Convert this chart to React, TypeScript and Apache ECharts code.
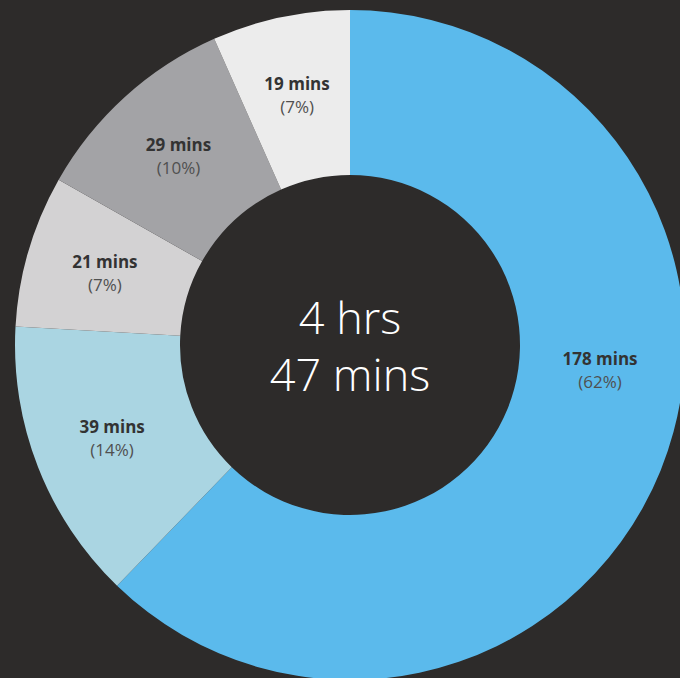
import React, { useEffect, useRef } from "react";
import * as echarts from "echarts";

const categories = ["A", "B", "C", "D", "E"];
const minutes = [178, 39, 21, 29, 19];
const colors = ["#5bbaec", "#aad5e2", "#d3d2d3", "#a3a3a6", "#ececec"];
const centerLines = ["4 hrs", "47 mins"];

export default function App() {
  const ref = useRef<HTMLDivElement>(null);
  useEffect(() => {
    document.body.style.margin = "0";
    const chart = echarts.init(ref.current!, null, { renderer: "svg" });
    chart.setOption({
      animation: false,
      backgroundColor: "#2d2b2a",
      graphic: centerLines.map((t, i) => ({
        type: "text",
        x: 350,
        y: 316 + i * 57,
        style: {
          text: t,
          fill: "#ffffff",
          font: "300 45px 'Open Sans', sans-serif",
          textAlign: "center",
          textVerticalAlign: "middle",
        },
      })),
      series: [
        {
          type: "pie",
          center: [350, 345],
          radius: [170, 335],
          startAngle: 90,
          clockwise: true,
          silent: true,
          data: categories.map((c, i) => ({
            name: c,
            value: minutes[i],
            itemStyle: { color: colors[i] },
          })),
          label: {
            show: true,
            position: "inside",
            formatter: (p: any) => `{a|${p.value} mins}\n{b|(${Math.round(p.percent)}%)}`,
            rich: {
              a: { fontFamily: "Open Sans", fontSize: 17, fontWeight: "bold", color: "#333333", lineHeight: 23 },
              b: { fontFamily: "Open Sans", fontSize: 17, color: "#505050", lineHeight: 23 },
            },
          },
          labelLine: { show: false },
          labelLayout: (params: any) => {
            if (params.dataIndex === 0) return { x: 600, y: 370 };
            return {};
          },
        },
      ],
    });
    return () => chart.dispose();
  }, []);
  return <div ref={ref} style={{ width: 680, height: 678 }} />;
}
